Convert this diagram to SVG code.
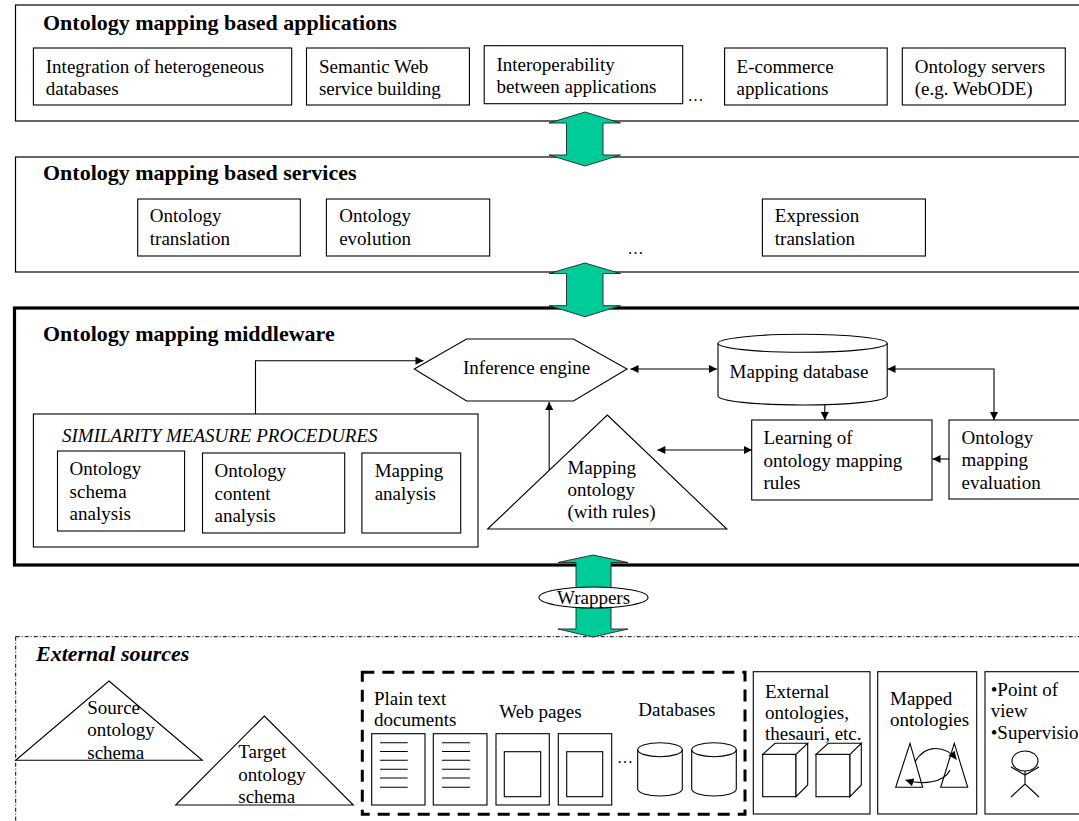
<svg xmlns="http://www.w3.org/2000/svg" width="1079" height="821" viewBox="0 0 1079 821">
<style>
text{font-family:"Liberation Serif","Times New Roman",serif;font-size:19px;fill:#000}
.title{font-weight:bold;font-size:22px}
.it{font-style:italic}
.bi{font-weight:bold;font-style:italic;font-size:22px}
.box{fill:#fff;stroke:#000;stroke-width:1.1}
.frame{fill:#fff;stroke:#000;stroke-width:1.2}
.thick{fill:#fff;stroke:#000;stroke-width:3.2}
.ln{fill:none;stroke:#000;stroke-width:1.1}
.green{fill:#00CC99;stroke:#222;stroke-width:0.9}
.conn{fill:none;stroke:#000;stroke-width:1.1}
.dots{font-size:16px}
</style>
<defs>
<marker id="ah" viewBox="0 0 10 10" refX="10" refY="5" markerWidth="9" markerHeight="8" markerUnits="userSpaceOnUse" orient="auto-start-reverse">
<path d="M0,0 L10,5 L0,10 z" fill="#000"/>
</marker>
</defs>

<!-- Layer frames -->
<g id="applications-layer">
<rect class="frame" x="15.5" y="5" width="1080" height="116"/>
<text class="title" x="43" y="30">Ontology mapping based applications</text>
</g>
<g id="services-layer">
<rect class="frame" x="15.5" y="157" width="1080" height="115"/>
<text class="title" x="43" y="180">Ontology mapping based services</text>
</g>
<g id="middleware-layer">
<rect class="thick" x="14.5" y="308" width="1080" height="257"/>
<text class="title" x="43" y="341">Ontology mapping middleware</text>
</g>
<g id="external-layer">
<rect x="15.7" y="636.7" width="1080" height="200" fill="#fff" stroke="#000" stroke-width="1" stroke-dasharray="4,2,1,2"/>
<text class="bi" x="36" y="660.5">External sources</text>
</g>

<!-- Applications -->
<g id="app-integration">
<rect class="box" x="33.4" y="48" width="258.3" height="57"/>
<text x="45.8" y="72.5">Integration of heterogeneous</text>
<text x="45.8" y="94.5">databases</text>
</g>
<g id="app-semantic-web">
<rect class="box" x="306.5" y="48" width="162.9" height="57"/>
<text x="318.9" y="72.5">Semantic Web</text>
<text x="318.9" y="94.5">service building</text>
</g>
<g id="app-interoperability">
<rect class="box" x="484.2" y="45.7" width="198.5" height="58"/>
<text x="496.5" y="71">Interoperability</text>
<text x="496.5" y="93">between applications</text>
</g>
<text class="dots" x="687.5" y="101">…</text>
<g id="app-ecommerce">
<rect class="box" x="724.6" y="48" width="162.6" height="57"/>
<text x="736.6" y="72.5">E-commerce</text>
<text x="736.6" y="94.5">applications</text>
</g>
<g id="app-servers">
<rect class="box" x="902.3" y="48" width="163" height="57"/>
<text x="914.7" y="72.5">Ontology servers</text>
<text x="914.7" y="94.5">(e.g. WebODE)</text>
</g>

<!-- Services -->
<g id="svc-translation">
<rect class="box" x="137.7" y="199" width="162.6" height="57"/>
<text x="149.8" y="222">Ontology</text>
<text x="149.8" y="244.5">translation</text>
</g>
<g id="svc-evolution">
<rect class="box" x="326.4" y="199" width="163.3" height="57"/>
<text x="339.2" y="222">Ontology</text>
<text x="339.2" y="244.5">evolution</text>
</g>
<text class="dots" x="627.5" y="254">…</text>
<g id="svc-expression">
<rect class="box" x="762.4" y="199" width="163" height="57"/>
<text x="774.8" y="222">Expression</text>
<text x="774.8" y="244.5">translation</text>
</g>

<!-- Middleware nodes -->
<g id="inference-engine">
<polygon class="box" points="414.3,369 466.6,339 573.5,339 627,369 573.5,401 466.6,401"/>
<text x="463" y="374">Inference engine</text>
</g>
<g id="similarity-procedures">
<rect class="box" x="33.4" y="414" width="444.6" height="133"/>
<text class="it" x="62" y="441.7">SIMILARITY MEASURE PROCEDURES</text>
</g>
<g id="schema-analysis">
<rect class="box" x="57.5" y="451" width="127.1" height="80"/>
<text x="69.6" y="475">Ontology</text>
<text x="69.6" y="497.5">schema</text>
<text x="69.6" y="520">analysis</text>
</g>
<g id="content-analysis">
<rect class="box" x="202.5" y="453" width="142.2" height="80"/>
<text x="214.5" y="477.3">Ontology</text>
<text x="214.5" y="500">content</text>
<text x="214.5" y="522.3">analysis</text>
</g>
<g id="mapping-analysis">
<rect class="box" x="361.9" y="453" width="98.8" height="80"/>
<text x="374.7" y="477.3">Mapping</text>
<text x="374.7" y="500">analysis</text>
</g>
<g id="mapping-ontology">
<polygon class="box" points="607.3,415 726.8,529 487.6,529"/>
<text x="567.4" y="474">Mapping</text>
<text x="567.4" y="496.3">ontology</text>
<text x="567.4" y="518.3">(with rules)</text>
</g>
<g id="mapping-database">
<path class="box" d="M718,343.3 A84.6,9 0 0 1 887.2,343.3 V396 A84.6,9 0 0 1 718,396 Z"/>
<path class="ln" d="M718,343.3 A84.6,9 0 0 0 887.2,343.3"/>
<text x="729.6" y="378.3">Mapping database</text>
</g>
<g id="learning-rules">
<rect class="box" x="751.7" y="420" width="180.3" height="80"/>
<text x="763.5" y="444">Learning of</text>
<text x="763.5" y="466.5">ontology mapping</text>
<text x="763.5" y="488.5">rules</text>
</g>
<g id="mapping-evaluation">
<rect class="box" x="949" y="420" width="140" height="79"/>
<text x="961.5" y="444">Ontology</text>
<text x="961.5" y="466">mapping</text>
<text x="961.5" y="488.5">evaluation</text>
</g>

<!-- Connectors -->
<g id="connectors">
<path class="conn" d="M255.5,414 V360.7 H423.5" marker-end="url(#ah)"/>
<path class="conn" d="M549.2,470 V402" marker-end="url(#ah)"/>
<path class="conn" d="M630.5,369 H717" marker-start="url(#ah)" marker-end="url(#ah)"/>
<path class="conn" d="M824.8,405 V420" marker-end="url(#ah)"/>
<path class="conn" d="M657.3,450 H752" marker-start="url(#ah)" marker-end="url(#ah)"/>
<path class="conn" d="M887.5,369 H994 V420" marker-start="url(#ah)" marker-end="url(#ah)"/>
<path class="conn" d="M949,459 H932.5" marker-end="url(#ah)"/>
<polygon class="green" points="585,112 620.5,123 603,123 603,155 620.5,155 585,166 549,155 566.5,155 566.5,123 549,123"/>
<polygon class="green" points="585,263 620.5,273.5 603,273.5 603,305.7 620.5,305.7 585,316.7 549,305.7 566.5,305.7 566.5,273.5 549,273.5"/>
<polygon class="green" points="593,555 628,562.5 611,562.5 611,629 628,629 593,637 558,629 576,629 576,562.5 558,562.5"/>
</g>
<g id="wrappers">
<ellipse cx="593.5" cy="597.5" rx="54.5" ry="10.5" fill="#fff" stroke="#000" stroke-width="1.1"/>
<text x="593.5" y="603.5" text-anchor="middle">Wrappers</text>
</g>

<!-- External sources -->
<g id="source-schema">
<polygon class="box" points="109,681 202.3,760.3 15.7,760.3" fill="none"/>
<text x="87.3" y="713.5">Source</text>
<text x="87.3" y="736">ontology</text>
<text x="87.3" y="758.5">schema</text>
</g>
<g id="target-schema">
<polygon class="box" points="264.3,716 353.3,805 175.7,805"/>
<text x="238.3" y="757.5">Target</text>
<text x="238.3" y="780.5">ontology</text>
<text x="238.3" y="803">schema</text>
</g>
<g id="unstructured-sources">
<rect x="362.3" y="672.3" width="382.7" height="142" fill="none" stroke="#000" stroke-width="3" stroke-dasharray="12,8"/>
<text x="374" y="704.5">Plain text</text>
<text x="374" y="726">documents</text>
<text x="499.3" y="717.5">Web pages</text>
<text x="638.3" y="716">Databases</text>
<rect class="box" x="371.7" y="733.7" width="53.3" height="71.3"/>
<path class="ln" d="M380,742.7 H407.7 M380,751.5 H407.7 M380,760.3 H407.7 M380,769.2 H407.7 M380,778 H407.7 M380,787.3 H407.7"/>
<rect class="box" x="433.3" y="733.7" width="53.7" height="71.3"/>
<path class="ln" d="M442,742.7 H470 M442,751.5 H470 M442,760.3 H470 M442,769.2 H470 M442,778 H470 M442,787.3 H470"/>
<rect class="box" x="496" y="733.7" width="53.3" height="71.3"/>
<rect class="box" x="504.3" y="751.7" width="36.4" height="45"/>
<rect class="box" x="558.3" y="733.7" width="53.4" height="71.3"/>
<rect class="box" x="566.7" y="751.7" width="36" height="45"/>
<text class="dots" x="617" y="763">…</text>
<path class="box" d="M637.7,749.7 A22.3,7 0 0 1 682.3,749.7 V789 A22.3,7 0 0 1 637.7,789 Z"/>
<path class="ln" d="M637.7,749.7 A22.3,7 0 0 0 682.3,749.7"/>
<path class="box" d="M691.7,749.7 A22.3,7 0 0 1 736.3,749.7 V789 A22.3,7 0 0 1 691.7,789 Z"/>
<path class="ln" d="M691.7,749.7 A22.3,7 0 0 0 736.3,749.7"/>
</g>
<g id="external-ontologies">
<rect class="box" x="753.3" y="671.7" width="116.7" height="142.3"/>
<text x="765" y="697.7">External</text>
<text x="765" y="719">ontologies,</text>
<text x="765" y="740">thesauri, etc.</text>
<rect class="box" x="762.7" y="754.3" width="33.3" height="42.4"/>
<path class="box" d="M762.7,754.3 L775,743.3 H807.7 L796,754.3 Z M796,754.3 L807.7,743.3 V785 L796,796.7 Z"/>
<rect class="box" x="816" y="754.3" width="34" height="42.4"/>
<path class="box" d="M816,754.3 L828.3,743.3 H861.3 L850,754.3 Z M850,754.3 L861.3,743.3 V785 L850,796.7 Z"/>
</g>
<g id="mapped-ontologies">
<rect class="box" x="877.7" y="671.7" width="99" height="142.3"/>
<text x="890" y="704.5">Mapped</text>
<text x="890" y="726">ontologies</text>
<polygon class="box" points="910,743.3 922.7,787.3 895.7,787.3"/>
<polygon class="box" points="954.3,743.3 967.7,787.3 940.7,787.3"/>
<path class="conn" d="M915,762 C925,744 945,745 956.5,759.5" marker-end="url(#ah)"/>
<path class="conn" d="M950,770 C944,783 922,785 905.5,780" marker-end="url(#ah)"/>
</g>
<g id="supervision">
<rect class="box" x="985" y="671.7" width="110" height="142.3"/>
<text x="990.7" y="696">•Point of</text>
<text x="990.7" y="717">view</text>
<text x="990.7" y="738.5">•Supervision</text>
<ellipse cx="1025" cy="761" rx="13" ry="10" fill="none" stroke="#000" stroke-width="1.1"/>
<path class="ln" d="M1025,771 V784 M1011,767 L1025,775 L1039,767 M1011,797 L1025,784 L1039,797"/>
</g>
</svg>
